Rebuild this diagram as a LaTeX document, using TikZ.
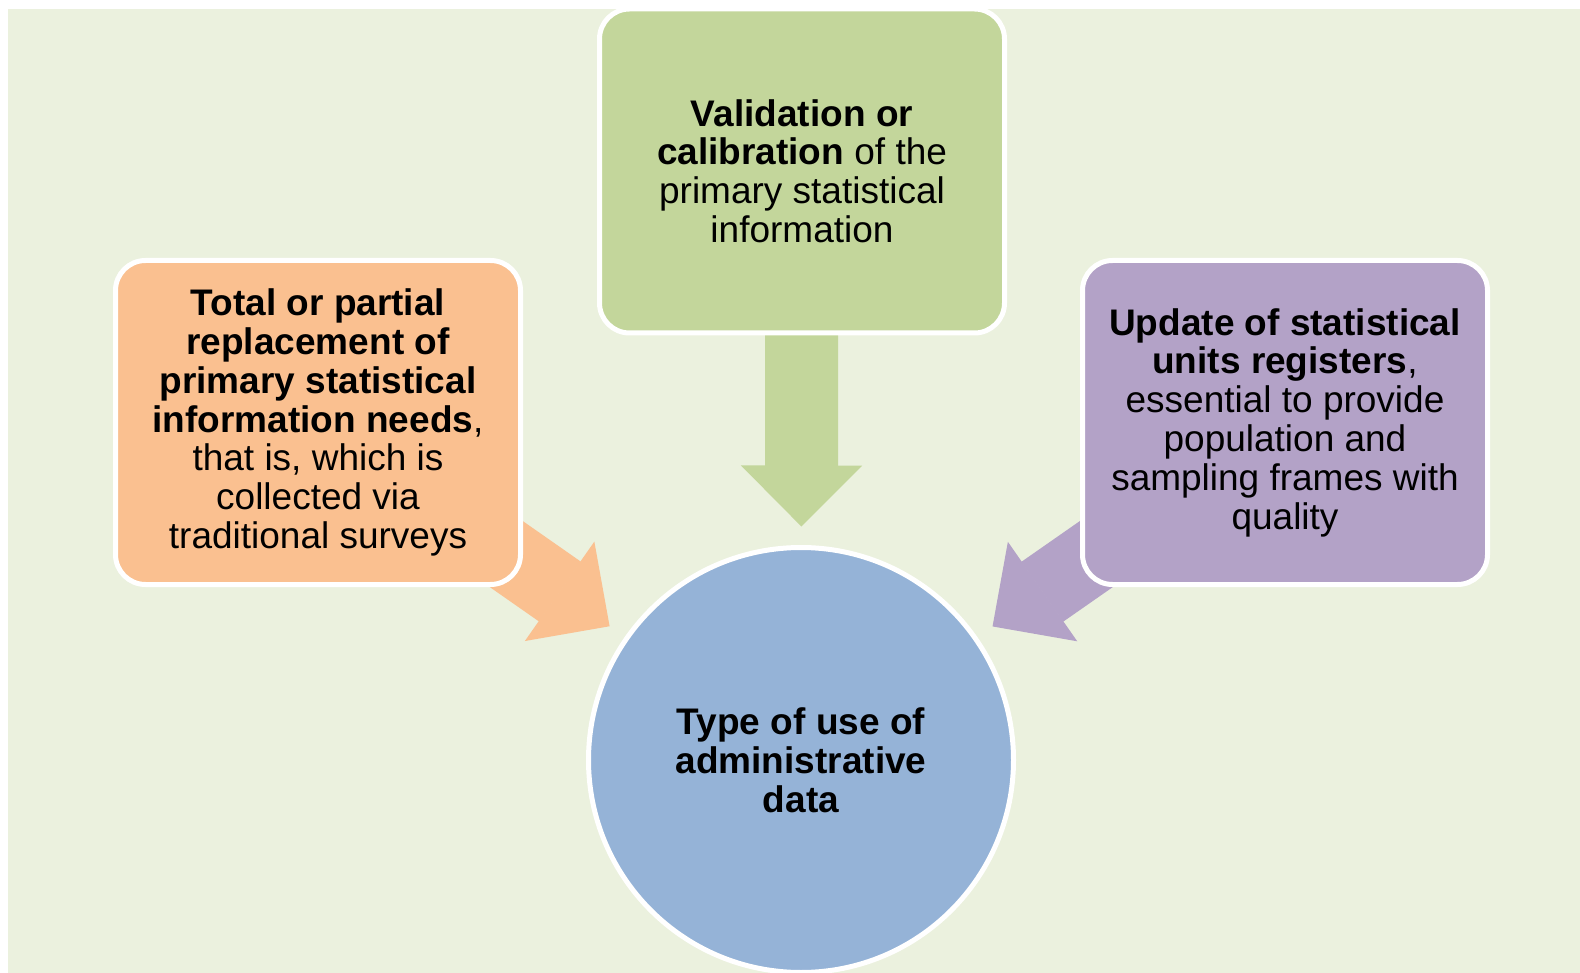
\documentclass[tikz,border=0pt]{standalone}
\usepackage{fontspec}
\setmainfont{Liberation Sans}
\usetikzlibrary{arrows.meta}
\definecolor{paper}{HTML}{EBF1DE}
\definecolor{sage}{HTML}{C3D69B}
\definecolor{peach}{HTML}{FAC090}
\definecolor{lilac}{HTML}{B3A2C7}
\definecolor{sky}{HTML}{95B3D7}
\pgfdeclarelayer{paperlayer}
\pgfdeclarelayer{arrowlayer}
\pgfsetlayers{paperlayer,arrowlayer,main}

\begin{document}
\begin{tikzpicture}[x=1pt,y=-1pt,
  usebox/.style={draw=white,line width=5pt,fill=#1,rounded corners=30pt,
    minimum width=405pt,minimum height=324pt,align=center,
    font=\fontsize{37}{38.8}\selectfont},
  flow/.style={draw=#1,line width=73pt,shorten >=18.5pt,
    -{Triangle[length=61pt,width=121pt,line width=1.5pt]}}]
\useasboundingbox (0,0) rectangle (1580,973);
\begin{pgfonlayer}{paperlayer}
\fill[white] (0,0) rectangle (1580,973);
\fill[paper] (8,9) rectangle (1580,973);
\end{pgfonlayer}
\node[usebox=sage] (valid) at (802,171) {\textbf{Validation or}\\\textbf{calibration} of the\\primary statistical\\information};
\node[usebox=peach] (replace) at (318,422.5) {\textbf{Total or partial}\\\textbf{replacement of}\\\textbf{primary statistical}\\\textbf{information needs},\\that is, which is\\collected via\\traditional surveys};
\node[usebox=lilac] (update) at (1285,422.5) {\textbf{Update of statistical}\\\textbf{units registers},\\essential to provide\\population and\\sampling frames with\\quality};
\node[circle,draw=white,line width=5pt,fill=sky,minimum size=425pt,align=center,
  font=\fontsize{37}{38.8}\selectfont] (hub) at (801,760) {\textbf{Type of use of}\\\textbf{administrative}\\\textbf{data}};
\begin{pgfonlayer}{arrowlayer}
\draw[flow=sage] (valid.center) -- (hub);
\draw[flow=peach] (replace.center) -- (hub);
\draw[flow=lilac] (update.center) -- (hub);
\end{pgfonlayer}
\end{tikzpicture}
\end{document}
